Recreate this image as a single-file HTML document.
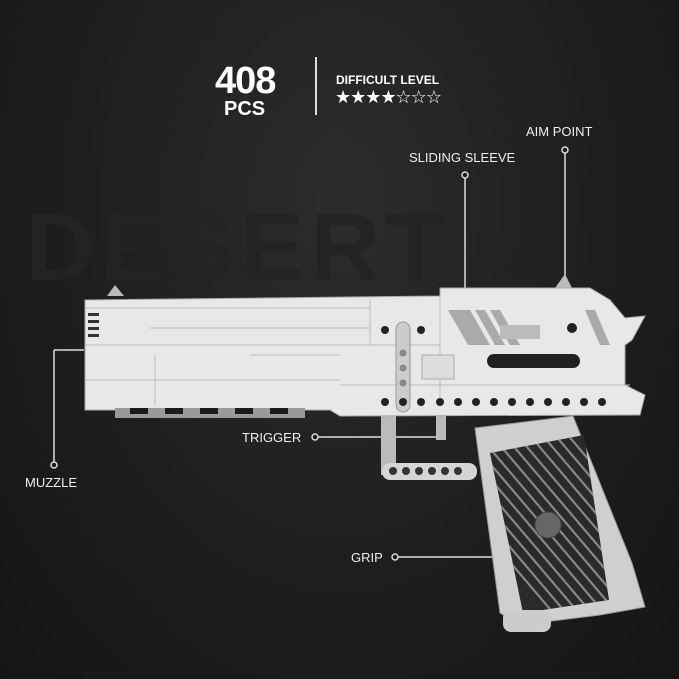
<!DOCTYPE html>
<html><head><meta charset="utf-8"><style>
html,body{margin:0;padding:0;background:#1b1b1b;overflow:hidden;width:679px;height:679px;}
#c{width:679px;height:679px;position:relative;overflow:hidden;background:radial-gradient(ellipse at 50% 30%,#2c2c2c 0%,#1e1e1e 55%,#151515 100%);font-family:"Liberation Sans",sans-serif;}
svg{display:block;}
</style></head><body><div id="c">
<svg width="679" height="679" viewBox="0 0 679 679" xmlns="http://www.w3.org/2000/svg" style="position:absolute;left:0;top:0">
<text x="25" y="280" font-family="Liberation Sans" font-weight="bold" font-size="96" fill="#232323" letter-spacing="6">DESERT</text>
<text x="215" y="93" font-family="Liberation Sans" font-weight="bold" font-size="38" fill="#fff" letter-spacing="-1">408</text>
<text x="224" y="115" font-family="Liberation Sans" font-weight="bold" font-size="20" fill="#fff">PCS</text>
<rect x="315" y="57" width="2" height="58" fill="#ddd"/>
<text x="336" y="84" font-family="Liberation Sans" font-weight="bold" font-size="12" fill="#fff">DIFFICULT LEVEL</text>
<text x="335" y="103" font-family="DejaVu Sans" font-size="18" fill="#fff" letter-spacing="-1">★★★★☆☆☆</text>
<g font-family="Liberation Sans" font-size="13" fill="#eee">
<text x="409" y="162">SLIDING SLEEVE</text>
<text x="526" y="136">AIM POINT</text>
<text x="242" y="442">TRIGGER</text>
<text x="25" y="487">MUZZLE</text>
<text x="351" y="562">GRIP</text>
</g>
<g stroke="#ddd" stroke-width="1.5" fill="#1b1b1b">
<line x1="465" y1="176" x2="465" y2="292"/>
<line x1="565" y1="150" x2="565" y2="280"/>
<line x1="316" y1="437" x2="440" y2="437"/>
<line x1="54" y1="350" x2="84" y2="350"/>
<line x1="54" y1="350" x2="54" y2="465"/>
<line x1="395" y1="557" x2="505" y2="557"/>
<circle cx="465" cy="175" r="3"/><circle cx="565" cy="150" r="3"/>
<circle cx="315" cy="437" r="3"/><circle cx="54" cy="465" r="3"/><circle cx="395" cy="557" r="3"/>
</g>
<polygon points="475,428 573,416 632,563 645,607 600,615 520,625 500,613" fill="#cfcfcf" stroke="#999"/>
<polygon points="490,453 584,435 609,600 523,613" fill="#2a2a2a"/>
<clipPath id="gp"><polygon points="490,453 584,435 609,600 523,613"/></clipPath>
<g clip-path="url(#gp)" stroke="#888" stroke-width="2.2">
<line x1="470" y1="440" x2="640" y2="640"/><line x1="470" y1="455" x2="640" y2="655"/>
<line x1="470" y1="470" x2="640" y2="670"/><line x1="470" y1="485" x2="640" y2="685"/>
<line x1="470" y1="425" x2="640" y2="625"/><line x1="470" y1="410" x2="640" y2="610"/>
<line x1="470" y1="395" x2="640" y2="595"/><line x1="470" y1="380" x2="640" y2="580"/>
<line x1="470" y1="365" x2="640" y2="565"/><line x1="470" y1="350" x2="640" y2="550"/>
<line x1="470" y1="335" x2="640" y2="535"/><line x1="470" y1="320" x2="640" y2="520"/>
<line x1="470" y1="500" x2="640" y2="700"/><line x1="470" y1="515" x2="640" y2="715"/>
</g>
<circle cx="548" cy="525" r="13" fill="#666" stroke="#444"/>
<rect x="503" y="610" width="48" height="22" rx="8" fill="#ccc"/>
<rect x="381" y="415" width="15" height="60" fill="#bbb"/>
<rect x="436" y="415" width="10" height="25" fill="#bbb"/>
<rect x="382" y="463" width="95" height="17" rx="8" fill="#d5d5d5"/>
<g fill="#333"><circle cx="393" cy="471" r="4"/><circle cx="406" cy="471" r="4"/><circle cx="419" cy="471" r="4"/><circle cx="432" cy="471" r="4"/><circle cx="445" cy="471" r="4"/><circle cx="458" cy="471" r="4"/></g>
<polygon points="107,296 115,285 124,296" fill="#bbb"/>
<polygon points="555,288 565,274 572,288" fill="#bbb"/>
<polygon points="85,300 440,296 440,288 590,288 610,300 625,318 645,316 632,340 625,345 625,385 645,395 640,415 340,416 330,410 85,410" fill="#e8e8e8" stroke="#aaa"/>
<rect x="115" y="408" width="190" height="10" fill="#999"/>
<g fill="#1b1b1b"><rect x="130" y="408" width="18" height="6"/><rect x="165" y="408" width="18" height="6"/><rect x="200" y="408" width="18" height="6"/><rect x="235" y="408" width="18" height="6"/><rect x="270" y="408" width="18" height="6"/></g>
<g stroke="#bbb" stroke-width="1" fill="none">
<line x1="85" y1="308" x2="370" y2="308"/><line x1="85" y1="345" x2="440" y2="345"/>
<line x1="155" y1="355" x2="155" y2="405"/><line x1="250" y1="355" x2="340" y2="355"/>
<line x1="85" y1="380" x2="340" y2="380"/><line x1="150" y1="328" x2="370" y2="328"/>
<line x1="370" y1="300" x2="370" y2="345"/><line x1="440" y1="296" x2="440" y2="400"/>
<line x1="340" y1="385" x2="630" y2="385"/>
</g>
<g fill="#333"><rect x="88" y="313" width="11" height="3"/><rect x="88" y="320" width="11" height="3"/><rect x="88" y="327" width="11" height="3"/><rect x="88" y="334" width="11" height="3"/></g>
<polygon points="448,310 470,310 490,345 468,345" fill="#aaa"/><polygon points="475,310 485,310 505,345 495,345" fill="#aaa"/><polygon points="490,310 500,310 520,345 510,345" fill="#aaa"/>
<polygon points="585,310 595,310 610,345 600,345" fill="#aaa"/>
<rect x="500" y="325" width="40" height="14" fill="#bbb"/>
<circle cx="572" cy="328" r="5" fill="#222"/>
<rect x="487" y="354" width="93" height="14" rx="7" fill="#222"/>
<rect x="422" y="355" width="32" height="24" fill="#ddd" stroke="#aaa"/>
<rect x="396" y="322" width="14" height="90" rx="7" fill="#ccc" stroke="#999"/>
<g fill="#888"><circle cx="403" cy="353" r="3.5"/><circle cx="403" cy="368" r="3.5"/><circle cx="403" cy="383" r="3.5"/></g>
<g fill="#222"><circle cx="385" cy="330" r="4"/><circle cx="421" cy="330" r="4"/><circle cx="385" cy="402" r="4"/><circle cx="403" cy="402" r="4"/>
<circle cx="421" cy="402" r="4"/><circle cx="440" cy="402" r="4"/><circle cx="458" cy="402" r="4"/><circle cx="476" cy="402" r="4"/><circle cx="494" cy="402" r="4"/><circle cx="512" cy="402" r="4"/><circle cx="530" cy="402" r="4"/><circle cx="548" cy="402" r="4"/><circle cx="566" cy="402" r="4"/><circle cx="584" cy="402" r="4"/><circle cx="602" cy="402" r="4"/></g>
</svg>
</div></body></html>
